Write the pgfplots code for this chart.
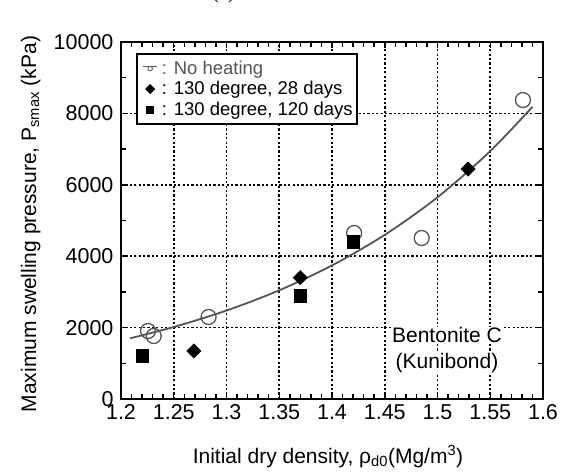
\documentclass[border=0pt]{standalone}
\usepackage{pgfplots}
\pgfplotsset{compat=1.18}
\usepackage{fontspec}
\setmainfont{Liberation Sans}
\newfontfamily\timesfont{Liberation Serif}
\definecolor{gray55}{RGB}{85,85,85}
\begin{document}
\begin{tikzpicture}
\path[use as bounding box] (-121pt,-72pt) rectangle (440pt,399pt);
\node[font=\timesfont\fontsize{21}{25}\selectfont, anchor=base] at (164pt,400pt) {(a)\quad Bentonite A};
\begin{axis}[
  at={(0pt,0pt)}, anchor=south west,
  scale only axis, width=422pt, height=357pt,
  xmin=1.2, xmax=1.6, ymin=0, ymax=10000,
  xtick={1.2,1.25,1.3,1.35,1.4,1.45,1.5,1.55,1.6},
  xticklabels={1.2,1.25,1.3,1.35,1.4,1.45,1.5,1.55,1.6},
  ytick={0,2000,4000,6000,8000,10000},
  yticklabels={0,2000,4000,6000,8000,10000},
  scaled y ticks=false, scaled x ticks=false,
  minor x tick num=4, minor y tick num=1,
  grid=major,
  major grid style={black, line width=1.7pt, dash pattern=on 2.2pt off 2.2pt},
  axis line style={line width=2.8pt},
  tick style={black, line width=1.5pt},
  major tick length=6pt, minor tick length=5pt,
  tick align=inside,
  xtick pos=both, ytick pos=both,
  /pgf/number format/assume math mode=true,
  tick label style={font=\fontsize{21.5}{25}\selectfont},
  xticklabel style={yshift=-2pt},
  yticklabel style={xshift=-4pt},
  xlabel={Initial dry density, ρ\textsubscript{d0}(Mg/m\textsuperscript{3})},
  ylabel={Maximum swelling pressure, P\textsubscript{smax} (kPa)},
  label style={font=\fontsize{21}{25}\selectfont},
  xlabel style={at={(axis description cs:0.4905,-0.1793)}, anchor=base},
  ylabel style={at={(axis description cs:-0.2014,0.49)}, anchor=base},
  legend style={at={(axis description cs:0.0355,0.969)}, anchor=north west,
    draw=black, line width=2.2pt, font=\fontsize{18.5}{20}\selectfont,
    inner xsep=3pt, inner ysep=5pt, row sep=3pt,
    nodes={inner sep=1.5pt, anchor=west}},
  legend cell align=left,
]
\addplot[smooth, gray55, line width=1.8pt, forget plot] coordinates {
 (1.2085,1700) (1.25,2017) (1.30,2478) (1.35,3045) (1.40,3742)
 (1.45,4598) (1.50,5650) (1.55,6943) (1.59,8185)};
\addplot[only marks, mark=o, mark size=7.5pt, draw=gray55, mark options={line width=1.3pt, fill=white},
  legend image code/.code={
    \path (0pt,0pt) (18pt,0pt);
    \draw[gray55, line width=1.2pt] (2pt,2pt)--(16pt,2pt);
    \draw[gray55, line width=0.8pt, fill=white] (9pt,-0.5pt) circle (2.3pt);}]
  coordinates {(1.2256,1905) (1.231,1765) (1.283,2297) (1.421,4650) (1.485,4510) (1.581,8375)};
\addlegendentry{\textcolor{gray55}{: No heating}}
\addplot[only marks, mark=square*, mark size=5.1pt, black, mark options={rotate=45},
  legend image code/.code={
    \path (0pt,0pt) (18pt,0pt);
    \fill[black] (9pt,0pt) +(0,3.5pt) -- +(3.5pt,0) -- +(0,-3.5pt) -- +(-3.5pt,0) -- cycle;}]
  coordinates {(1.269,1345) (1.37,3400) (1.529,6440)};
\addlegendentry{: 130 degree, 28 days}
\addplot[only marks, mark=square*, mark size=6.3pt, black,
  legend image code/.code={
    \path (0pt,0pt) (18pt,0pt);
    \fill[black] (9pt,0pt) +(-3pt,-3pt) rectangle +(3pt,3pt);}]
  coordinates {(1.22,1205) (1.37,2900) (1.42,4400)};
\addlegendentry{: 130 degree, 120 days}
\node[fill=white, inner sep=1pt, anchor=base, font=\fontsize{21}{25}\selectfont] at (axis cs:1.509,1569) {Bentonite C};
\node[fill=white, inner sep=1pt, anchor=base, font=\fontsize{21}{25}\selectfont] at (axis cs:1.509,868) {(Kunibond)};
\end{axis}
\end{tikzpicture}
\end{document}
